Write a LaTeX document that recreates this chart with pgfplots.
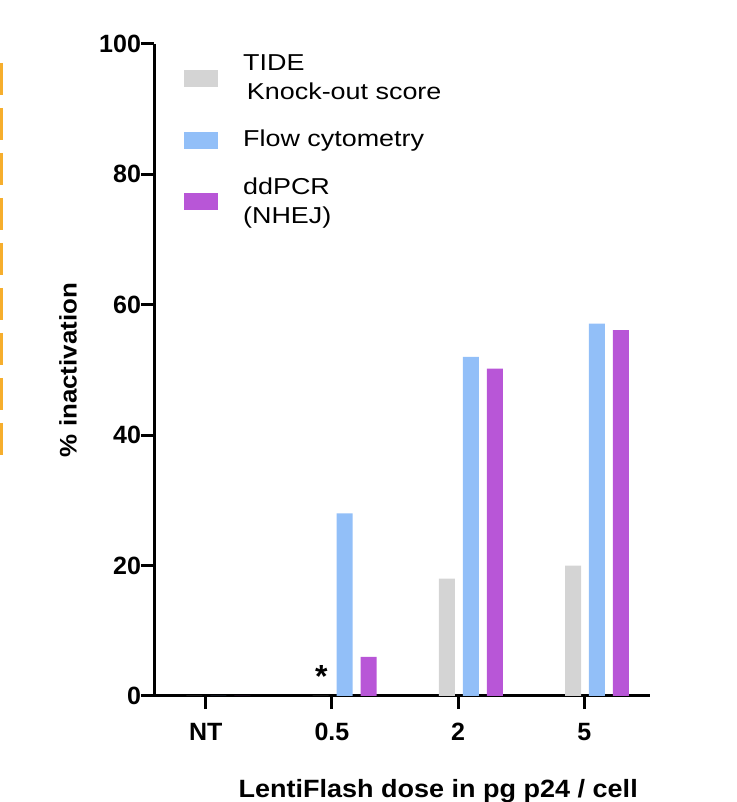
\documentclass[border=0pt]{standalone}
\usepackage{fontspec}
\setmainfont{Liberation Sans}
\newfontfamily\labelfont[FakeStretch=1.08]{Liberation Sans}
\newfontfamily\legendfont[FakeStretch=1.17]{Liberation Sans}
\usepackage{pgfplots}
\usepackage{pgfplotstable}
\pgfplotsset{compat=1.18}

\definecolor{tidegray}{HTML}{D4D4D4}
\definecolor{flowblue}{HTML}{92BFF8}
\definecolor{ddpurple}{HTML}{B856D7}
\definecolor{frameorange}{HTML}{F6AE2D}

% x: 0 = NT, 1 = 0.5, 2 = 2, 3 = 5 pg p24 / cell
\pgfplotstableread{
x tide flow ddpcr
0 0  0    0
1 0  28   6
2 18 52   50.2
3 20 57.1 56.1
}\dosetable

\begin{document}
\begin{tikzpicture}
\useasboundingbox (-77pt,-53pt) rectangle (291.5pt,348pt);
\begin{axis}[
    at={(0,0)}, anchor=south west,
    scale only axis,
    width=248pt, height=326pt,
    xmin=-0.41, xmax=3.52,
    ymin=0, ymax=100,
    axis x line*=bottom, axis y line*=left,
    axis line style={line width=1.5pt, black},
    xtick={0,1,2,3}, xticklabels={NT,0.5,2,5},
    ytick={0,20,40,60,80,100},
    tick align=outside,
    major tick length=6.5pt,
    tick style={line width=1.5pt, black},
    /pgf/number format/assume math mode=true,
    ticklabel style={font=\fontsize{12.5}{15}\selectfont\bfseries},
    xticklabel style={yshift=-3.5pt},
    yticklabel style={xshift=3.5pt},
    ylabel={\% inactivation},
    xlabel={LentiFlash dose in pg p24 / cell},
    every axis y label/.style={at={(axis description cs:0,0.5)}, xshift=-43pt,
        rotate=90, anchor=center, font=\labelfont\fontsize{12}{15}\selectfont\bfseries},
    every axis x label/.style={at={(axis description cs:0.573,0)}, yshift=-47.5pt,
        anchor=center, font=\labelfont\fontsize{12.5}{15}\selectfont\bfseries},
    ybar, bar width=8pt,
    legend style={at={(axis description cs:0.06,0.99)}, anchor=north west,
        draw=none, fill=none, inner sep=0pt, row sep=9.75pt,
        font=\legendfont\fontsize{11.5}{14.5}\selectfont,
        nodes={align=left, inner xsep=12.5pt}},
    legend cell align=left,
]
\addplot[fill=tidegray, draw=none, bar shift=0pt,
    legend image code/.code={\fill[tidegray] (0pt,-4.25pt) rectangle (17pt,4.25pt);}]
    table[x expr=\thisrow{x}-0.09, y=tide] {\dosetable};
\addlegendentry{TIDE\\\,Knock-out score}
\addplot[fill=flowblue, draw=none, bar shift=0pt,
    legend image code/.code={\fill[flowblue] (0pt,-4.25pt) rectangle (17pt,4.25pt);}]
    table[x expr=\thisrow{x}+0.10, y=flow] {\dosetable};
\addlegendentry{Flow cytometry}
\addplot[fill=ddpurple, draw=none, bar shift=0pt,
    legend image code/.code={\fill[ddpurple] (0pt,-4.25pt) rectangle (17pt,4.25pt);}]
    table[x expr=\thisrow{x}+0.29, y=ddpcr] {\dosetable};
\addlegendentry{ddPCR\\(NHEJ)}
\node[anchor=base, yshift=4pt, font=\fontsize{16}{16}\selectfont\bfseries] at (axis cs:0.915,0) {*};
\end{axis}
\draw[frameorange, line width=1.4pt, dash pattern=on 16pt off 6.5pt] (-76.3pt,316.5pt) -- (-76.3pt,116.5pt);
\end{tikzpicture}
\end{document}
